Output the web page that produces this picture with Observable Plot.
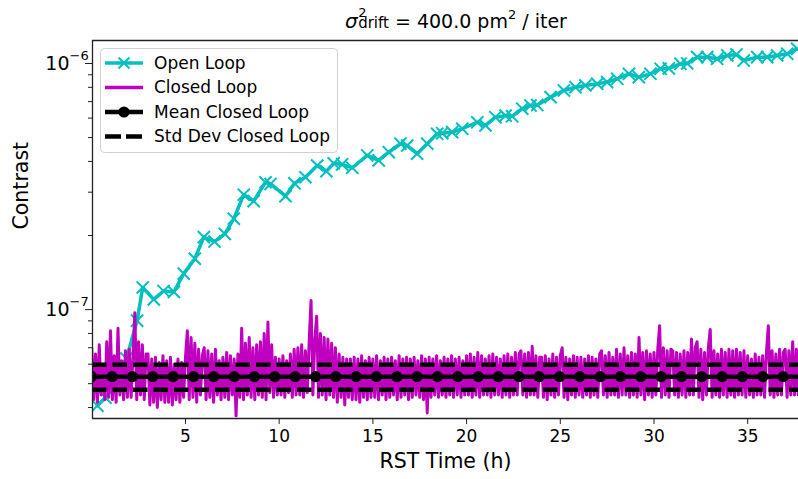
<!DOCTYPE html>
<html><head><meta charset="utf-8">
<script src="https://cdn.jsdelivr.net/npm/d3@7"></script>
<script src="https://cdn.jsdelivr.net/npm/@observablehq/plot@0.6"></script>
<style>
body{margin:0;background:#fff;font-family:"DejaVu Sans",sans-serif;}
#wrap{position:relative;width:798px;height:479px;overflow:hidden;}
</style></head>
<body><div id="wrap"></div>
<script>
// ---------- data (contrast values in units of 1e-8) ----------
const unit = 1e-8;
const openTimes = [0.30,0.73,1.32,1.85,2.42,2.72,3.31,3.83,4.38,4.91,5.50,5.98,6.55,7.10,7.58,8.11,8.64,9.27,9.54,10.34,10.82,11.40,12.03,12.52,12.91,13.36,13.90,14.70,15.31,15.85,16.47,16.83,17.36,17.90,18.43,18.70,19.23,19.77,20.57,21.01,21.54,22.08,22.43,22.97,23.41,23.77,24.48,25.19,25.81,26.34,26.97,27.50,28.04,28.66,29.19,29.81,30.35,30.79,31.41,31.77,32.31,32.84,33.37,33.91,34.40,34.79,35.51,36.04,36.57,37.11,37.64];
const openLoop = [4.07,4.39,5.14,6.32,9.02,12.3,11.0,11.9,11.8,14.0,16.1,19.7,18.9,20.3,23.4,29.3,27.6,32.9,32.4,28.9,32.6,34.5,38.5,36.5,39.3,38.9,37.7,42.3,40.4,43.6,47.2,46.4,43.0,47.2,51.8,52.1,52.6,54.3,57.7,56.0,60.5,61.4,61.0,65.5,67.5,67.8,73.0,77.7,80.1,81.4,82.7,84.0,86.7,90.8,88.0,90.8,95.2,95.5,99.7,100,106.1,106.1,104.5,107.8,108.8,102.8,106.1,106.1,107.8,109.5,114.7];

const closedStart = 0, closedStep = 0.1;
const closedLoop = [
7.0,4.3,6.6,4.2,7.2,4.5,6.0,4.3,7.4,4.4,
8.2,4.3,6.5,4.2,8.4,4.5,6.2,4.3,6.8,4.4,
6.9,4.4,6.5,9.7,4.3,7.4,4.5,7.2,4.3,6.6,
6.6,4.1,6.3,4.2,6.4,4.0,6.1,4.3,6.5,4.2,
6.2,4.2,6.4,4.1,6.0,4.3,6.3,4.2,6.1,4.4,
6.4,8.2,4.3,7.7,4.4,7.3,4.2,6.9,4.5,6.5,
7.0,4.3,6.8,4.4,6.6,4.2,6.9,4.5,6.2,4.3,
6.4,4.4,6.7,4.3,6.5,4.5,6.3,3.7,6.6,4.4,
8.4,4.3,7.3,4.5,7.7,4.4,7.0,4.3,7.2,4.5,
7.4,4.4,8.0,4.3,8.9,4.6,7.2,4.4,6.4,4.5,
6.3,4.5,6.5,4.4,6.2,4.6,6.6,4.4,6.9,4.5,
7.0,4.5,7.2,4.4,6.8,4.6,7.4,10.9,4.5,7.5,
9.4,4.4,8.0,4.5,7.7,4.3,7.6,4.5,7.3,4.4,
7.0,4.2,6.6,4.4,6.4,4.1,6.3,4.4,6.3,4.3,
6.4,4.3,6.3,4.2,6.5,4.4,6.2,4.3,6.4,4.4,
6.3,4.4,6.5,4.3,6.2,4.5,6.4,4.3,6.3,4.4,
6.4,4.5,6.2,4.3,6.5,4.4,6.3,4.5,6.4,4.3,
6.3,4.4,6.4,4.5,6.2,4.4,6.5,4.3,6.3,3.8,
6.4,4.4,6.3,4.5,6.5,4.4,6.2,4.5,6.4,4.4,
6.3,4.5,6.5,4.4,6.3,4.5,6.4,4.4,6.2,4.5,
6.5,4.5,6.6,4.4,6.4,4.5,6.7,4.4,6.5,4.5,
6.3,4.5,6.5,4.4,6.6,4.5,6.4,4.5,6.3,4.4,
6.5,4.5,6.6,4.4,6.4,4.5,6.7,4.5,6.6,6.8,
4.5,6.6,4.4,6.7,4.5,7.1,4.5,6.5,4.4,6.4,
6.4,4.4,6.5,4.3,6.3,4.5,6.6,4.4,6.4,4.5,
6.5,7.0,4.4,6.4,4.3,6.3,4.5,6.5,4.4,6.4,
4.5,6.4,4.4,6.3,4.5,6.5,4.4,6.4,4.5,6.3,
4.4,6.6,6.8,4.5,6.5,4.4,6.7,4.5,6.4,4.5,
6.9,4.4,6.6,4.5,7.0,4.5,6.5,4.4,6.7,4.5,
6.6,4.4,7.7,4.5,6.7,4.3,6.8,4.5,6.6,4.4,
6.7,4.5,6.9,8.6,4.4,7.0,4.5,6.8,4.4,6.9,
6.8,4.5,6.7,4.4,6.6,4.5,6.8,4.4,6.7,4.5,
7.6,4.5,7.0,7.4,4.4,6.9,4.3,6.7,4.5,7.0,
8.3,4.4,6.8,4.5,6.6,4.4,6.9,4.5,6.7,4.4,
6.9,4.5,6.8,4.4,6.9,4.5,6.7,4.5,6.8,4.4,
6.5,4.5,6.3,4.4,6.6,4.5,6.4,4.5,6.5,4.4,
6.7,8.6,4.5,6.8,4.4,6.6,4.5,6.9,4.5,6.7,
6.9,4.4,6.8,4.5,7.4,4.5,6.9,4.5
];

const meanClosed = 5.34, stdHigh = 5.97, stdLow = 4.72;
const meanMarkerTimes = [0,1.09,2.17,3.26,4.34,5.43,6.51,7.60,8.68,9.77,10.85,11.94,13.02,14.11,15.19,16.28,17.36,18.45,19.53,20.62,21.70,22.79,23.87,24.96,26.04,27.13,28.21,29.30,30.38,31.47,32.55,33.64,34.72,35.81,36.89];

const xTicks = [5,10,15,20,25,30,35];
const yMajorTicks = [1e-7, 1e-6];
const yTickExponents = ["\u22127", "\u22126"];
const yMinorTicks = [4e-8,5e-8,6e-8,7e-8,8e-8,9e-8,2e-7,3e-7,4e-7,5e-7,6e-7,7e-7,8e-7,9e-7];

const legendLabels = ["Open Loop","Closed Loop","Mean Closed Loop","Std Dev Closed Loop"];
const cyan = "#00bfbf", magenta = "#bf00bf";

// ---------- build tables ----------
const openData = openTimes.map((t,i) => ({t, v: openLoop[i]*unit}));
const closedData = closedLoop.map((v,i) => ({t: closedStart + i*closedStep, v: v*unit}));
const xDomain = [0.04, 37.71];
const yDomain = [3.61e-8, 1.24e-6];

const chart = Plot.plot({
  width: 798, height: 479,
  marginLeft: 92, marginRight: 0, marginTop: 40, marginBottom: 61,
  style: {fontFamily: "DejaVu Sans", fontSize: "17px", color: "#000", background: "transparent", overflow: "visible"},
  x: {domain: xDomain},
  y: {type: "log", domain: yDomain},
  marks: [
    Plot.line(openData, {x: "t", y: "v", stroke: cyan, strokeWidth: 3.5, clip: true}),
    Plot.dot(openData, {x: "t", y: "v", symbol: "times", r: 5.6, stroke: cyan, strokeWidth: 2, clip: true}),
    Plot.line(closedData, {x: "t", y: "v", stroke: magenta, strokeWidth: 3, clip: true}),
    Plot.ruleY([meanClosed*unit], {stroke: "black", strokeWidth: 4.5}),
    Plot.dot(meanMarkerTimes, {x: d => d, y: () => meanClosed*unit, r: 5.6, fill: "black", clip: true}),
    Plot.ruleY([stdHigh*unit, stdLow*unit], {stroke: "black", strokeWidth: 4.5, strokeDasharray: "14.5,6"}),
    Plot.ruleX([xDomain[0]], {stroke: "#222", strokeWidth: 1.3}),
    Plot.ruleY(yDomain, {stroke: "#222", strokeWidth: 1.3}),
    Plot.axisX(xTicks, {tickSize: 6, tickPadding: 5, fontSize: 17, label: null, stroke: "#222", tickFormat: d => String(d)}),
    Plot.axisY(yMajorTicks, {tickSize: 7, tickFormat: () => "", label: null, stroke: "#222"}),
    Plot.axisY(yMinorTicks, {tickSize: 4, tickFormat: () => "", label: null, stroke: "#222"}),
    Plot.text(yMajorTicks, {x: () => xDomain[0], y: d => d, text: () => "10", dx: -23, textAnchor: "end", fontSize: 19, fill: "#000"}),
    Plot.text(yMajorTicks, {x: () => xDomain[0], y: d => d, text: (d,i) => yTickExponents[i], dx: -23, dy: -8, textAnchor: "start", fontSize: 13, fill: "#000"}),
    Plot.text(["RST Time (h)"], {frameAnchor: "bottom", dy: 49, fontSize: 20.5, fill: "#000"}),
    Plot.text(["Contrast"], {frameAnchor: "left", dx: -71, rotate: -90, fontSize: 20.5, fill: "#000"})
  ]
});
chart.style.position = "absolute";
chart.style.left = "0px";
chart.style.top = "0px";
const wrap = document.getElementById("wrap");
wrap.appendChild(chart);

// ---------- overlay: title + legend ----------
const lg = d3.select(wrap).append("svg").attr("width",798).attr("height",479)
  .style("position","absolute").style("left","0px").style("top","0px")
  .attr("font-family","DejaVu Sans");

const tt = lg.append("text").attr("x",345).attr("y",28).attr("font-size",19).attr("fill","#000");
tt.append("tspan").attr("font-style","italic").attr("font-size",20).text("σ");
tt.append("tspan").attr("font-size",13).attr("dx",0.5).attr("dy",-11).text("2");
tt.append("tspan").attr("font-size",15).attr("dx",-8.3).attr("dy",11).text("drift");
tt.append("tspan").attr("font-size",19).text(" = 400.0 pm");
tt.append("tspan").attr("font-size",13).attr("dy",-9).text("2");
tt.append("tspan").attr("font-size",19).attr("dy",9).text(" / iter");

lg.append("rect").attr("x",100.5).attr("y",48.5).attr("width",237).attr("height",104).attr("rx",4)
  .attr("fill","rgba(255,255,255,0.85)").attr("stroke","#d0d0d0").attr("stroke-width",1);
const rowY = [63, 87.5, 112, 136.5];
const hx0 = 105, hx1 = 143, hxm = 124;
lg.append("line").attr("x1",hx0).attr("x2",hx1).attr("y1",rowY[0]).attr("y2",rowY[0]).attr("stroke",cyan).attr("stroke-width",3.5);
lg.append("path").attr("d",`M${hxm-5.5},${rowY[0]-5.5}L${hxm+5.5},${rowY[0]+5.5}M${hxm-5.5},${rowY[0]+5.5}L${hxm+5.5},${rowY[0]-5.5}`).attr("stroke",cyan).attr("stroke-width",2);
lg.append("line").attr("x1",hx0).attr("x2",hx1).attr("y1",rowY[1]).attr("y2",rowY[1]).attr("stroke",magenta).attr("stroke-width",3.5);
lg.append("line").attr("x1",hx0).attr("x2",hx1).attr("y1",rowY[2]).attr("y2",rowY[2]).attr("stroke","black").attr("stroke-width",4.5);
lg.append("circle").attr("cx",hxm).attr("cy",rowY[2]).attr("r",5.6).attr("fill","black");
lg.append("line").attr("x1",hx0).attr("x2",hx1).attr("y1",rowY[3]).attr("y2",rowY[3]).attr("stroke","black").attr("stroke-width",4.5).attr("stroke-dasharray","16,5");
lg.selectAll("text.lab").data(legendLabels).join("text").attr("class","lab")
  .attr("x",154).attr("y",(d,i)=>rowY[i]).attr("dy","0.35em")
  .attr("font-size",17).attr("fill","#000").text(d=>d);
</script>
</body></html>
